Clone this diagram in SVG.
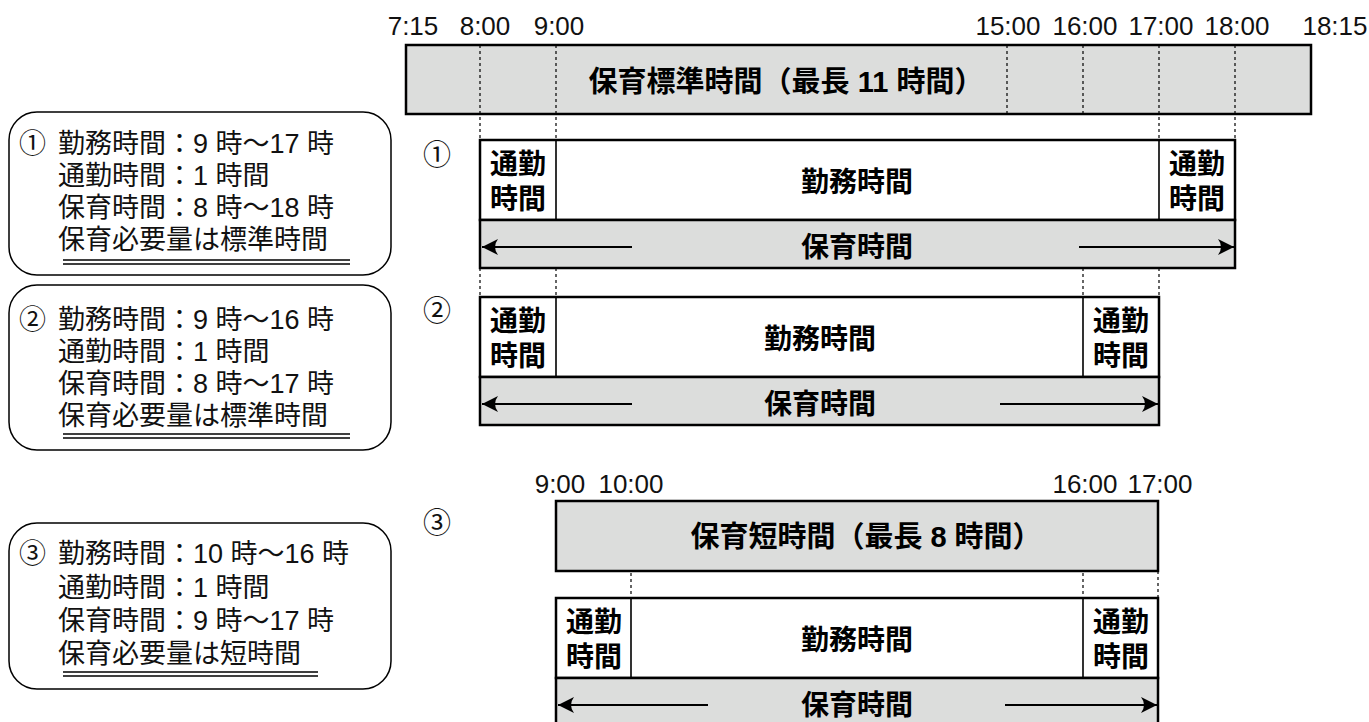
<svg xmlns="http://www.w3.org/2000/svg" width="1369" height="722" viewBox="0 0 1369 722">
<style>
.bar{fill:#dcdddc;stroke:#000;stroke-width:2.5}
.wbox{fill:#fff;stroke:#000;stroke-width:2.5}
.div{stroke:#000;stroke-width:1.6;fill:none}
.dot{stroke:#000;stroke-width:1.2;stroke-dasharray:3 3;fill:none}
.lbl{font-family:"Liberation Sans","Noto Sans CJK JP",sans-serif;font-size:26px;text-anchor:middle;fill:#111}
.bt{font-family:"Liberation Sans","Noto Sans CJK JP",sans-serif;font-weight:700;font-size:28px;text-anchor:middle;fill:#000}
.tt{font-size:29px}
.note{font-family:"Liberation Sans","Noto Sans CJK JP",sans-serif;font-size:27px;fill:#111}
.num{font-family:"Noto Sans CJK JP",sans-serif;font-size:28px;text-anchor:middle;fill:#111}
.arr{stroke:#000;stroke-width:2;fill:none;marker-end:url(#ah)}
.card{fill:#fff;stroke:#000;stroke-width:1.5}
.ul{stroke:#000;stroke-width:1.5}
</style>
<defs>
<marker id="ah" markerUnits="userSpaceOnUse" markerWidth="18" markerHeight="18" viewBox="0 -9 18 18" refX="16" refY="0" orient="auto">
<path d="M16,0 L0,-8 Q6,0 0,8 Z" fill="#000"/>
</marker>
</defs>

<g id="labels-top">
<text class="lbl" x="413" y="35">7:15</text>
<text class="lbl" x="485" y="35">8:00</text>
<text class="lbl" x="559" y="35">9:00</text>
<text class="lbl" x="1008" y="35">15:00</text>
<text class="lbl" x="1085" y="35">16:00</text>
<text class="lbl" x="1161" y="35">17:00</text>
<text class="lbl" x="1237" y="35">18:00</text>
<text class="lbl" x="1335" y="35">18:15</text>
</g>

<g id="standard-bar">
<rect class="bar" x="406" y="45" width="905" height="69"/>
<text class="bt tt" x="786" y="92">保育標準時間（最長 11 時間）</text>
</g>

<g id="guides">
<path class="dot" d="M480,45V140 M556,45V140 M1007,45V114 M1083,45V114 M1159,45V140 M1235,45V140"/>
<path class="dot" d="M480,268V297 M556,268V297 M1083,268V297 M1159,268V297"/>
<path class="dot" d="M631,501V598 M1083,501V598 M1158,571V598"/>
</g>

<g id="row1">
<text class="num" x="437" y="165">①</text>
<rect class="wbox" x="480" y="140" width="755" height="80"/>
<rect class="bar" x="480" y="220" width="755" height="48"/>
<path class="div" d="M556,140V220 M1159,140V220"/>
<text class="bt" x="518" y="174">通勤</text>
<text class="bt" x="518" y="209">時間</text>
<text class="bt" x="857" y="192">勤務時間</text>
<text class="bt" x="1197" y="174">通勤</text>
<text class="bt" x="1197" y="209">時間</text>
<text class="bt" x="857" y="257">保育時間</text>
</g>

<g id="row2">
<text class="num" x="437" y="321">②</text>
<rect class="wbox" x="480" y="297" width="679" height="80"/>
<rect class="bar" x="480" y="377" width="679" height="48"/>
<path class="div" d="M556,297V377 M1083,297V377"/>
<text class="bt" x="518" y="331">通勤</text>
<text class="bt" x="518" y="366">時間</text>
<text class="bt" x="820" y="349">勤務時間</text>
<text class="bt" x="1121" y="331">通勤</text>
<text class="bt" x="1121" y="366">時間</text>
<text class="bt" x="820" y="414">保育時間</text>
</g>

<g id="labels-short">
<text class="lbl" x="560" y="493">9:00</text>
<text class="lbl" x="631" y="493">10:00</text>
<text class="lbl" x="1085" y="493">16:00</text>
<text class="lbl" x="1160" y="493">17:00</text>
</g>

<g id="short-bar">
<rect class="bar" x="556" y="501" width="602" height="70"/>
<text class="bt tt" x="866" y="547">保育短時間（最長 8 時間）</text>
</g>

<g id="row3">
<text class="num" x="437" y="533">③</text>
<rect class="wbox" x="556" y="598" width="602" height="80"/>
<rect class="bar" x="556" y="678" width="602" height="48"/>
<path class="div" d="M631,598V678 M1083,598V678"/>
<text class="bt" x="594" y="632">通勤</text>
<text class="bt" x="594" y="667">時間</text>
<text class="bt" x="857" y="650">勤務時間</text>
<text class="bt" x="1121" y="632">通勤</text>
<text class="bt" x="1121" y="667">時間</text>
<text class="bt" x="857" y="715">保育時間</text>
</g>

<g id="connectors">
<line class="arr" x1="632" y1="247" x2="482" y2="247"/>
<line class="arr" x1="1079" y1="247" x2="1234" y2="247"/>
<line class="arr" x1="632" y1="404" x2="482" y2="404"/>
<line class="arr" x1="1000" y1="404" x2="1158" y2="404"/>
<line class="arr" x1="708" y1="705" x2="558" y2="705"/>
<line class="arr" x1="1005" y1="705" x2="1157" y2="705"/>
</g>

<g id="note1">
<rect class="card" x="9" y="112" width="382" height="163" rx="28"/>
<text class="note" x="19" y="153">①<tspan x="58">勤務時間：9 時〜17 時</tspan></text>
<text class="note" x="58" y="185">通勤時間：1 時間</text>
<text class="note" x="58" y="217">保育時間：8 時〜18 時</text>
<text class="note" x="58" y="249">保育必要量は標準時間</text>
<path class="ul" d="M63,260H350 M63,264H350"/>
</g>

<g id="note2">
<rect class="card" x="9" y="285" width="382" height="165" rx="28"/>
<text class="note" x="19" y="329">②<tspan x="58">勤務時間：9 時〜16 時</tspan></text>
<text class="note" x="58" y="361">通勤時間：1 時間</text>
<text class="note" x="58" y="393">保育時間：8 時〜17 時</text>
<text class="note" x="58" y="425">保育必要量は標準時間</text>
<path class="ul" d="M63,434H350 M63,438H350"/>
</g>

<g id="note3">
<rect class="card" x="9" y="523" width="382" height="166" rx="28"/>
<text class="note" x="19" y="563">③<tspan x="58">勤務時間：10 時〜16 時</tspan></text>
<text class="note" x="58" y="597">通勤時間：1 時間</text>
<text class="note" x="58" y="630">保育時間：9 時〜17 時</text>
<text class="note" x="58" y="663">保育必要量は短時間</text>
<path class="ul" d="M63,672H318 M63,676H318"/>
</g>
</svg>
